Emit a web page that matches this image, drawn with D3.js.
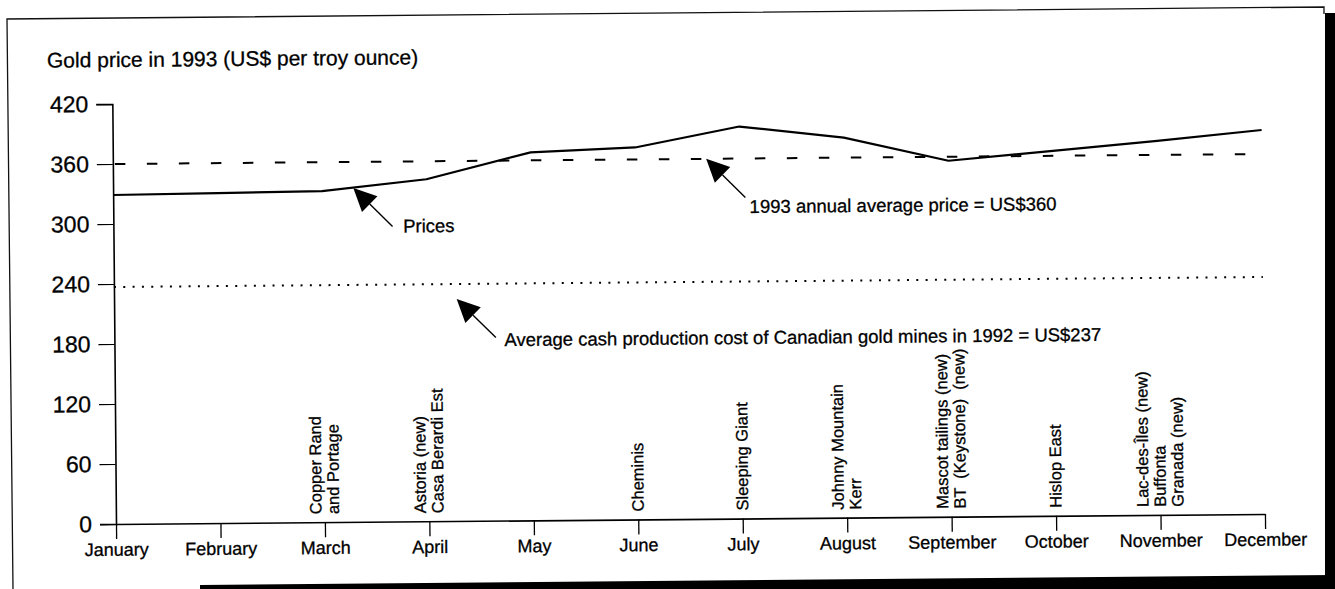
<!DOCTYPE html>
<html>
<head>
<meta charset="utf-8">
<script src="https://cdn.jsdelivr.net/npm/d3@7"></script>
<style>
  body { margin: 0; background: #fff; }
  svg { display: block; font-family: "Liberation Sans", Arial, Helvetica, sans-serif; }
  svg text { stroke: #000; stroke-width: 0.3px; }
</style>
</head>
<body>
<svg id="chart" width="1335" height="589"></svg>
<script>
// Monthly gold price, 1993 (US$ per troy ounce)
const months = ["January", "February", "March", "April", "May", "June",
                "July", "August", "September", "October", "November", "December"];
const goldPrice = [329, 330, 331, 342, 368, 372, 392, 380, 356, 365, 374, 384];

// Reference levels
const annualAverage = 360;
const productionCost = 237;

const yTicks = [0, 60, 120, 180, 240, 300, 360, 420];

// Mine openings by month (each entry is one line of the vertical label)
const mineMonths = ["March", "April", "June", "July", "August", "September", "October", "November"];
const mineNames = [
  ["Copper Rand", "and Portage"],
  ["Astoria (new)", "Casa Berardi Est"],
  ["Cheminis"],
  ["Sleeping Giant"],
  ["Johnny Mountain", "Kerr"],
  ["Mascot tailings (new)", "BT  (Keystone)  (new)"],
  ["Hislop East"],
  ["Lac-des-Îles (new)", "Buffonta", "Granada (new)"]
];

// Arrow callouts: label, position along the month axis (0 = January), value pointed at
const calloutText = ["Prices",
                     "1993 annual average price = US$360",
                     "Average cash production cost of Canadian gold mines in 1992 = US$237"];
const calloutAt = [2.3, 5.68, 3.28];
const calloutValue = [334, 360, 222];

const svg = d3.select("#chart");

// Page frame with its heavy shadow edge on the right and bottom
svg.append("path")
  .attr("d", "M13,589 L7,19 L1324,7 L1324,14")
  .attr("fill", "none").attr("stroke", "#111").attr("stroke-width", 1.3);
svg.append("rect").attr("x", 1325).attr("y", 13).attr("width", 12).attr("height", 580).attr("fill", "#000");
svg.append("path").attr("d", "M200,585 L1335,575 L1335,589 L200,589 Z").attr("fill", "#000");

// The whole plot sits slightly tilted on the page
const g = svg.append("g").attr("transform", "rotate(-0.5,116,524)");

const x = d3.scalePoint().domain(months).range([116, 1265]);
const xi = d3.scaleLinear().domain([0, months.length - 1]).range([116, 1265]);
const y = d3.scaleLinear().domain([0, 420]).range([524, 104]);

g.append("text")
  .attr("x", 51).attr("y", 67)
  .attr("font-size", 21).attr("fill", "#000")
  .text("Gold price in 1993 (US$ per troy ounce)");

// Y axis
const yAxis = g.append("g")
  .attr("transform", `translate(${x(months[0])},0)`)
  .call(d3.axisLeft(y).tickValues(yTicks).tickSize(16).tickPadding(8).tickFormat(d3.format("d")));
yAxis.select(".domain").attr("stroke", "#000").attr("stroke-width", 1.6);
yAxis.selectAll(".tick line").attr("stroke", "#000").attr("stroke-width", 1.2);
yAxis.selectAll(".tick text").attr("font-size", 23).attr("fill", "#000")
  .attr("font-family", "Liberation Sans, Arial, sans-serif");

// X axis
const xAxis = g.append("g")
  .attr("transform", `translate(0,${y(0)})`)
  .call(d3.axisBottom(x).tickSize(15).tickSizeOuter(0).tickPadding(4));
xAxis.select(".domain").attr("stroke", "#000").attr("stroke-width", 1.6);
xAxis.selectAll(".tick line").attr("stroke", "#000").attr("stroke-width", 1.3);
xAxis.selectAll(".tick text").attr("font-size", 18).attr("fill", "#000")
  .attr("font-family", "Liberation Sans, Arial, sans-serif");

// Reference lines
g.append("line")
  .attr("x1", x(months[0]) + 2).attr("x2", x(months[11]))
  .attr("y1", y(annualAverage)).attr("y2", y(annualAverage))
  .attr("stroke", "#000").attr("stroke-width", 2)
  .attr("stroke-dasharray", "10.5,21.5");

g.append("line")
  .attr("x1", x(months[0])).attr("x2", x(months[11]))
  .attr("y1", y(productionCost)).attr("y2", y(productionCost))
  .attr("stroke", "#000").attr("stroke-width", 2)
  .attr("stroke-dasharray", "2,7.33");

// Price line
const line = d3.line().x((d, i) => x(months[i])).y(d => y(d));
g.append("path")
  .datum(goldPrice)
  .attr("d", line)
  .attr("fill", "none").attr("stroke", "#000").attr("stroke-width", 2.2)
  .attr("stroke-linejoin", "round");

// Arrow callouts
const textOffsets = [[49.5, 45], [43, 54.5], [47.5, 47.5]];
calloutText.forEach((t, i) => {
  const tx = xi(calloutAt[i]), ty = y(calloutValue[i]);
  const ux = Math.SQRT1_2, uy = Math.SQRT1_2;   // arrows run down-right at 45°
  const headLen = 23, headHalf = 11, shaft = 55;
  const bx = tx + ux * headLen, by = ty + uy * headLen;
  g.append("path")
    .attr("d", `M${tx},${ty} L${bx - uy * headHalf},${by + ux * headHalf} L${bx + uy * headHalf},${by - ux * headHalf} Z`)
    .attr("fill", "#000");
  g.append("line")
    .attr("x1", bx).attr("y1", by)
    .attr("x2", tx + ux * shaft).attr("y2", ty + uy * shaft)
    .attr("stroke", "#000").attr("stroke-width", 1.4);
  g.append("text")
    .attr("x", tx + textOffsets[i][0]).attr("y", ty + textOffsets[i][1])
    .attr("font-size", 18.5).attr("fill", "#000")
    .text(t);
});

// Mine opening labels, vertical and centred on their month tick
const lineGap = 17.5;
mineMonths.forEach((m, i) => {
  const names = mineNames[i];
  const n = names.length;
  names.forEach((name, j) => {
    const cx = x(m) + (j - (n - 1) / 2) * lineGap + 5.5;
    g.append("text")
      .attr("transform", `translate(${cx},${y(0) - 8}) rotate(-90)`)
      .attr("font-size", 16.5).attr("fill", "#000")
      .style("white-space", "pre")
      .text(name);
  });
});
</script>
</body>
</html>
